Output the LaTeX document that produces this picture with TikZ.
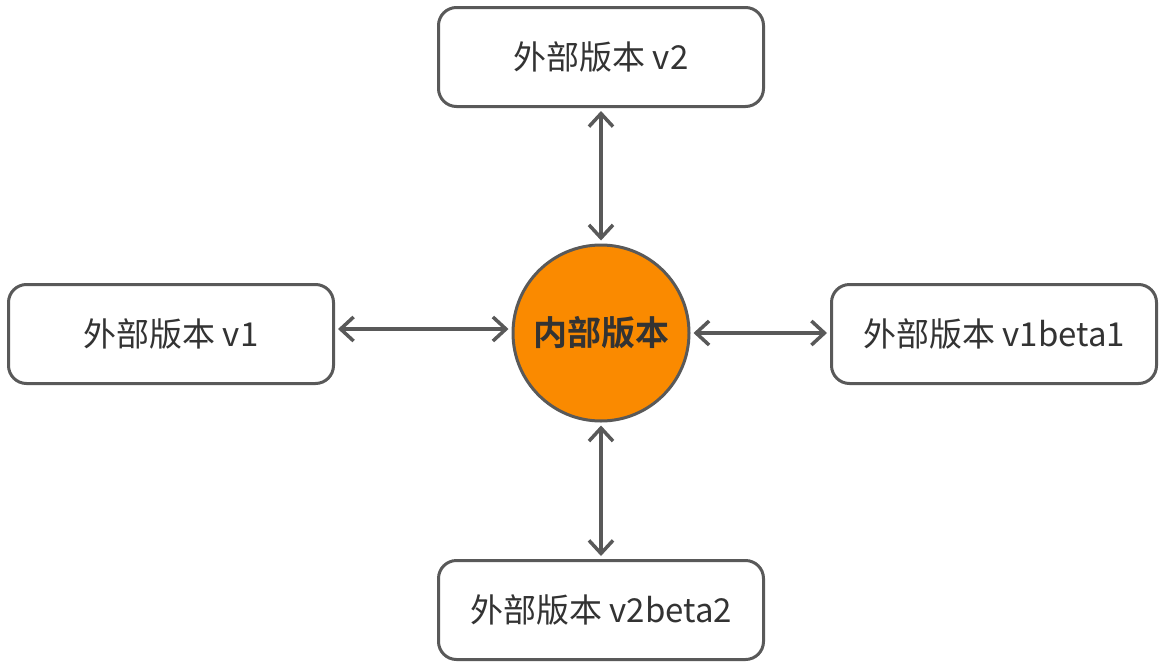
\documentclass[tikz,border=0pt]{standalone}
\usepackage{fontspec}
\setmainfont{Noto Sans CJK SC}
\newfontfamily\cjkb{Noto Sans CJK SC Bold}
\usetikzlibrary{arrows.meta}
\definecolor{edge}{RGB}{89,89,89}
\definecolor{orng}{RGB}{250,138,0}
\definecolor{txt}{RGB}{51,51,51}
\tikzset{
  x=1pt,y=-1pt,
  vbox/.style={draw=edge,line width=3pt,rounded corners=18pt,fill=white,minimum width=325pt,minimum height=99pt,inner sep=0pt,font=\fontsize{33}{38}\selectfont,text=txt},
  core/.style={circle,draw=edge,line width=3pt,fill=orng,minimum size=176pt,inner sep=0pt,font=\cjkb\fontsize{34}{38}\selectfont,text=txt},
  link/.style={draw=edge,line width=3.5pt,{Straight Barb[length=13pt,width=24pt]}-{Straight Barb[length=13pt,width=24pt]},shorten <=3pt,shorten >=3pt}
}
\begin{document}
\begin{tikzpicture}
\useasboundingbox (0,0) rectangle (1173,667);
\node[core] (c) at (601,333) {内部版本};
\node[vbox] (t) at (601,57) {外部版本 v2};
\node[vbox] (l) at (171,334) {外部版本 v1};
\node[vbox] (r) at (994,334) {外部版本 v1beta1};
\node[vbox] (b) at (601,610) {外部版本 v2beta2};
\draw[link] (t.south) -- (c.north);
\draw[link] (c.south) -- (b.north);
\draw[link] (l.east |- 0,329) -- (c.west |- 0,329);
\draw[link] (c.east) -- (r.west |- c.east);
\end{tikzpicture}
\end{document}
